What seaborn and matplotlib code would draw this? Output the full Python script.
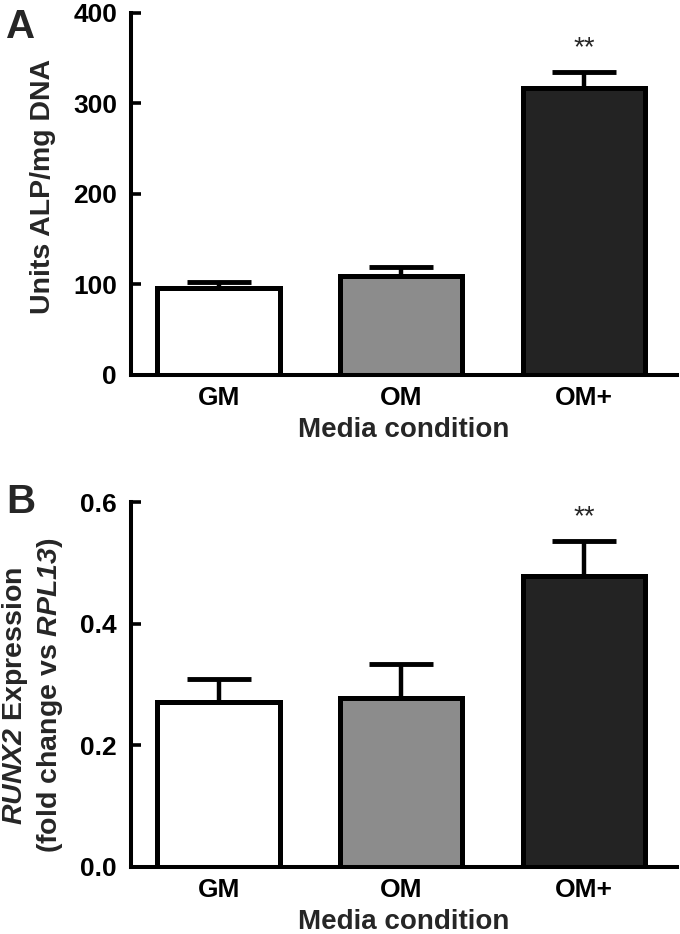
import numpy as np
import pandas as pd
import matplotlib
matplotlib.use("Agg")
import matplotlib.pyplot as plt
import seaborn as sns

# data
conditions = ["GM", "OM", "OM+"]
alp_mean = [96, 109, 317]
alp_sem = [7, 10, 18]
runx2_mean = [0.271, 0.278, 0.478]
runx2_sem = [0.038, 0.056, 0.058]
bar_colors = ["#ffffff", "#8c8c8c", "#232323"]

sns.set_theme(style="ticks")
plt.rcParams['font.family'] = ['Liberation Sans', 'DejaVu Sans']
plt.rcParams['font.weight'] = 'bold'
# gene names: bold italic, digits included
plt.rcParams['mathtext.fontset'] = 'custom'
plt.rcParams['mathtext.rm'] = 'Liberation Sans:italic:bold'
plt.rcParams['mathtext.it'] = 'Liberation Sans:italic:bold'

W, H = 680, 934
fig = plt.figure(figsize=(W / 100, H / 100), dpi=100)


def px_axes(left, top, right, bottom):
    return fig.add_axes([left / W, 1 - bottom / H, (right - left) / W, (bottom - top) / H])


def panel(ax, means, sems, ymax, yticks, fmt):
    df = pd.DataFrame({"cond": conditions, "val": means})
    sns.barplot(data=df, x="cond", y="val", hue="cond", palette=bar_colors,
                legend=False, edgecolor="black", linewidth=3.6, width=0.67,
                errorbar=None, ax=ax, zorder=2)
    ax.errorbar(range(len(means)), means, yerr=[np.zeros(len(sems)), sems],
                fmt="none", ecolor="black", elinewidth=3.2, capsize=23,
                capthick=3.5, zorder=1, clip_on=False)
    ax.set_xlim(-0.48, 2.51)
    ax.set_ylim(0, ymax)
    ax.set_yticks(yticks)
    ax.set_yticklabels([fmt.format(t) for t in yticks])
    for s in ["top", "right"]:
        ax.spines[s].set_visible(False)
    for s in ["left", "bottom"]:
        ax.spines[s].set_linewidth(2.9)
        ax.spines[s].set_color("black")
    ax.tick_params(axis="y", direction="in", length=7, width=2.6, pad=10,
                   labelsize=19, colors="black")
    ax.tick_params(axis="x", length=0, pad=8, labelsize=19, colors="black")
    for lab in ax.get_xticklabels() + ax.get_yticklabels():
        lab.set_fontweight("bold")
    ax.set_xlabel("Media condition", fontsize=20, fontweight="bold", labelpad=5)
    top = means[2] + sems[2]
    ax.annotate("**", xy=(2, top), xytext=(0, 8), textcoords="offset points",
                ha="center", va="bottom", fontsize=20, fontweight="normal")


axA = px_axes(131, 13, 677, 375)
panel(axA, alp_mean, alp_sem, 400, [0, 100, 200, 300, 400], "{:.0f}")
axA.set_ylabel("Units ALP/mg DNA", fontsize=20.5, fontweight="bold", labelpad=12)
axA.yaxis.label.set_y(0.52)

axB = px_axes(131, 502, 677, 867)
panel(axB, runx2_mean, runx2_sem, 0.6, [0.0, 0.2, 0.4, 0.6], "{:.1f}")
axB.set_ylabel("$\\mathrm{RUNX2}$ Expression\n(fold change vs $\\mathrm{RPL13}$)",
               fontsize=20.5, fontweight="bold", labelpad=11, linespacing=1.25)
axB.yaxis.label.set_y(0.47)

fig.text(6 / W, 1 - 27 / H, "A", fontsize=29, fontweight="heavy", va="center")
fig.text(6 / W, 1 - 502 / H, "B", fontsize=29, fontweight="heavy", va="center")

fig.savefig("out.png", dpi=100)
